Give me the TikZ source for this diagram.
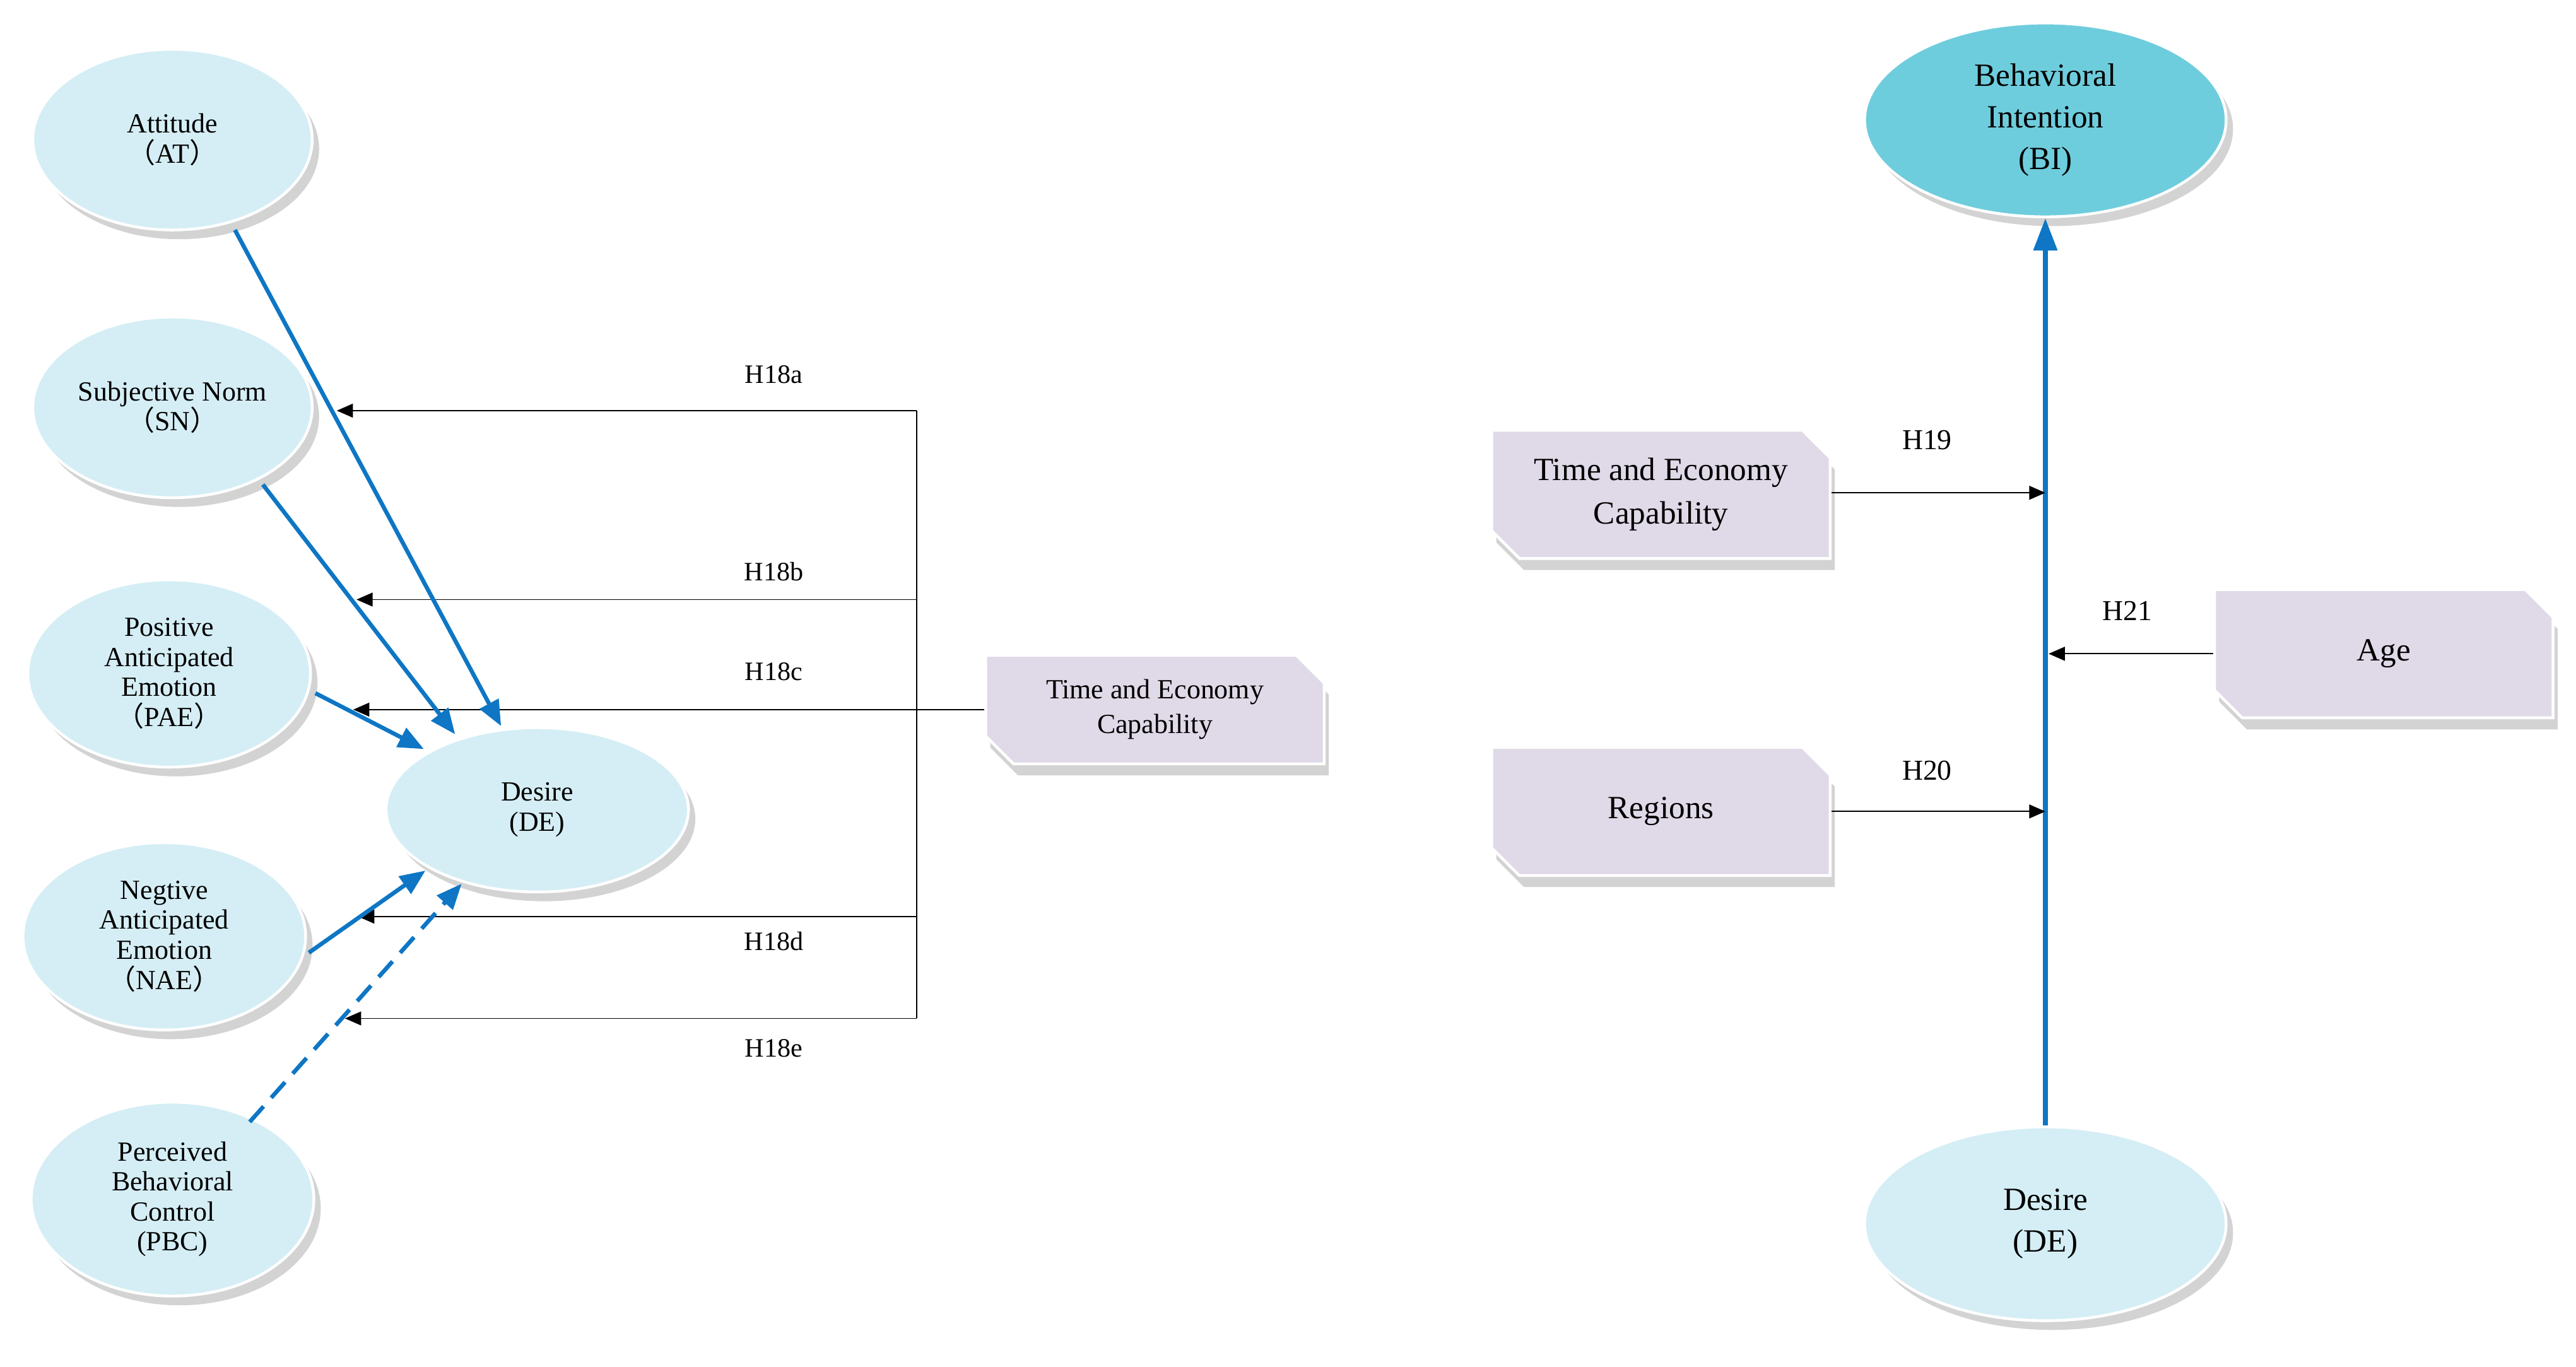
\documentclass[tikz,border=0pt]{standalone}
\usepackage{fontspec}
\setmainfont{Liberation Serif}
\newfontfamily\cjkf{Noto Sans CJK SC}
\newcommand{\lp}{{\cjkf （}}
\newcommand{\rp}{{\cjkf ）}}
\usetikzlibrary{shapes.geometric,shapes.misc,shadows,arrows.meta}
\definecolor{ellf}{HTML}{D5EEF5}
\definecolor{bif}{HTML}{6ECDDD}
\definecolor{boxf}{HTML}{E0D9E8}
\definecolor{blu}{HTML}{0E76C4}
\begin{document}
\begin{tikzpicture}[x=0.025cm,y=-0.025cm,
 ell/.style={ellipse,fill=ellf,draw=white,line width=1.2pt,inner sep=0pt,align=center,font=\fontsize{12}{13}\selectfont,drop shadow={opacity=0.35,shadow xshift=3pt,shadow yshift=-4pt}},
 box/.style={chamfered rectangle,chamfered rectangle corners={north east,south west},chamfered rectangle xsep=6pt,chamfered rectangle ysep=6pt,fill=boxf,draw=white,line width=1.2pt,minimum width=5.15cm,inner sep=2pt,align=center,font=\fontsize{14}{19}\selectfont,drop shadow={opacity=0.35,shadow xshift=2pt,shadow yshift=-5pt}},
 barr/.style={blu,line width=1.8pt,-{Triangle[length=11pt,width=9pt]}},
 karr/.style={black,line width=0.5pt,-{Triangle[length=7pt,width=6pt]}},
 lab/.style={font=\fontsize{11.5}{12}\selectfont}]
\useasboundingbox (0,0) rectangle (1568,832);
% left ellipses
\node[ell,minimum width=4.25cm,minimum height=2.75cm] (at) at (105,85) {Attitude\\\lp AT\rp};
\node[ell,minimum width=4.25cm,minimum height=2.75cm] (sn) at (105,248) {Subjective Norm\\\lp SN\rp};
\node[ell,minimum width=4.3cm,minimum height=2.85cm] (pae) at (103,410) {Positive\\Anticipated\\Emotion\\\lp PAE\rp};
\node[ell,minimum width=4.3cm,minimum height=2.85cm] (nae) at (100,570) {Negtive\\Anticipated\\Emotion\\\lp NAE\rp};
\node[ell,minimum width=4.3cm,minimum height=2.95cm] (pbc) at (105,730) {Perceived\\Behavioral\\Control\\(PBC)};
\node[ell,minimum width=4.6cm,minimum height=2.5cm] (de) at (327,493) {Desire\\(DE)};
\node[box,minimum height=1.65cm,font=\fontsize{12}{15}\selectfont] (tec) at (703,432) {Time and Economy\\Capability};
% moderator lines
\coordinate (v1) at (558,250);
\coordinate (v2) at (558,620);
\coordinate (jb) at (558,365);
\coordinate (jd) at (558,558);
\coordinate (ta) at (205,250);
\coordinate (tb) at (217,365);
\coordinate (tc) at (215,432);
\coordinate (td) at (218,558);
\coordinate (te) at (210,620);
\draw[black,line width=0.5pt] (v1) -- (v2);
\draw[karr] (v1) -- (ta);
\draw[karr] (jb) -- (tb);
\draw[karr] (tec.west) -- (tc);
\draw[karr] (jd) -- (td);
\draw[karr] (v2) -- (te);
\node[lab] (h18a) at (471,228) {H18a};
\node[lab] (h18b) at (471,348) {H18b};
\node[lab] (h18c) at (471,409) {H18c};
\node[lab] (h18d) at (471,573) {H18d};
\node[lab] (h18e) at (471,638) {H18e};
% blue arrows
\coordinate (dat) at (305,442);
\coordinate (dsn) at (277,447);
\coordinate (dpae) at (258,456);
\coordinate (dnae) at (259,530);
\coordinate (dpbc) at (281,538);
\draw[barr] (at) ++(38,55) -- (dat);
\draw[barr] (sn) ++(55,47) -- (dsn);
\draw[barr] (pae) ++(89,12) -- (dpae);
\draw[barr] (nae) ++(88,10) -- (dnae);
\draw[barr,dash pattern=on 9pt off 5pt] (pbc) ++(47,-47) -- (dpbc);
% right part
\node[ell,fill=bif,minimum width=5.5cm,minimum height=2.95cm,font=\fontsize{14}{18}\selectfont] (bi) at (1245,73) {Behavioral\\Intention\\(BI)};
\node[ell,minimum width=5.5cm,minimum height=2.95cm,font=\fontsize{14}{18}\selectfont] (de2) at (1245,745) {Desire\\(DE)};
\draw[blu,line width=2.2pt,-{Triangle[length=14pt,width=10pt]}] (de2) -- (bi);
\node[box,minimum height=1.95cm] (tec2) at (1011,301) {Time and Economy\\Capability};
\node[box,minimum height=1.95cm] (reg) at (1011,494) {Regions};
\node[box,minimum height=1.95cm] (age) at (1451,398) {Age};
\coordinate (p19) at (1245,300);
\coordinate (p20) at (1245,494);
\coordinate (p21) at (1247,398);
\draw[karr] (tec2.east |- p19) -- (p19);
\draw[karr] (reg.east) -- (p20);
\draw[karr] (age.west) -- (p21);
\node[lab,font=\fontsize{12.5}{13}\selectfont] (h19) at (1173,268) {H19};
\node[lab,font=\fontsize{12.5}{13}\selectfont] (h20) at (1173,469) {H20};
\node[lab,font=\fontsize{12.5}{13}\selectfont] (h21) at (1295,372) {H21};
\end{tikzpicture}
\end{document}
